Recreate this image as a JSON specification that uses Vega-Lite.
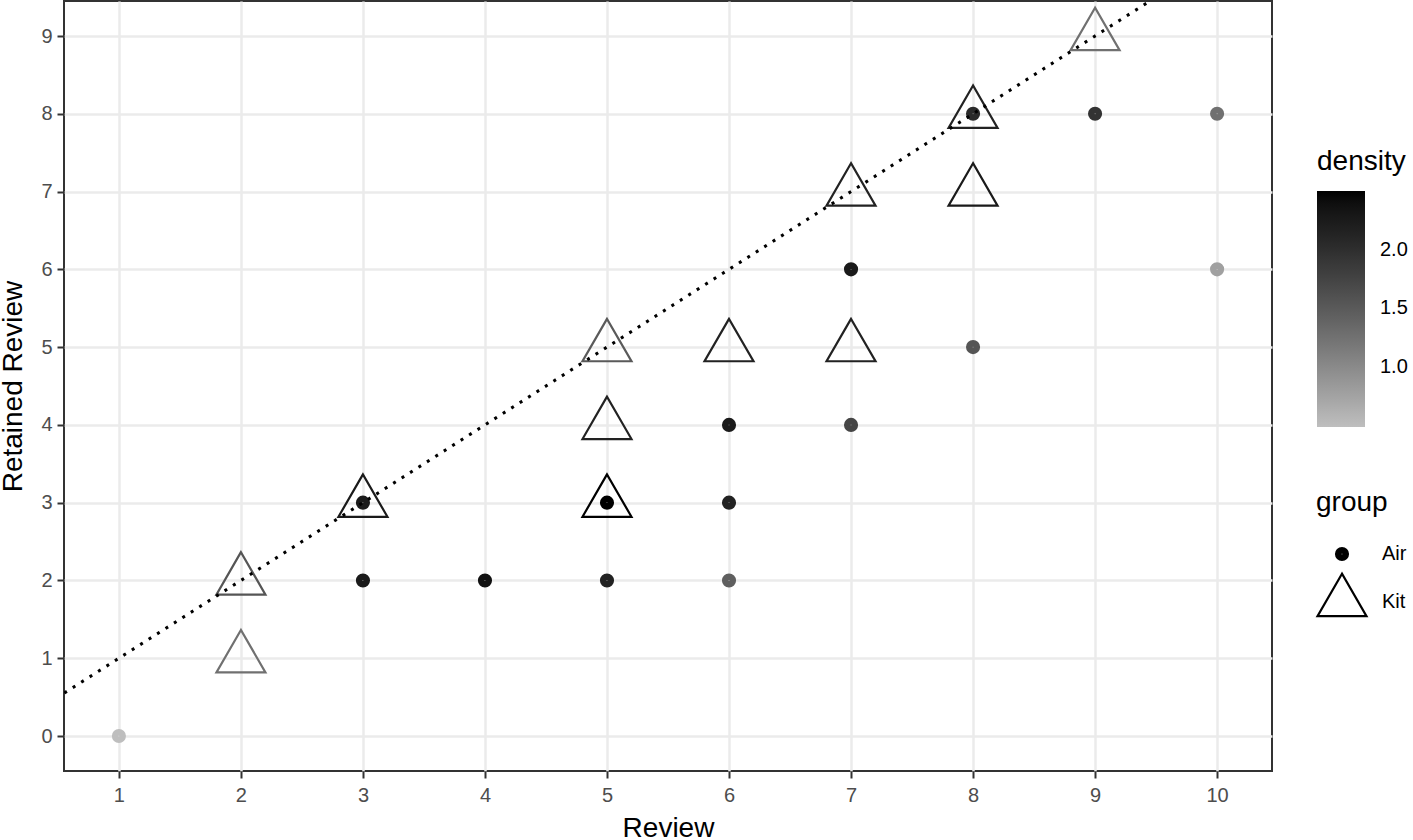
{
  "$schema": "https://vega.github.io/schema/vega-lite/v6.json",
  "width": 1208,
  "height": 770,
  "autosize": "none",
  "padding": {"left": 64, "top": 1, "right": 141, "bottom": 69},
  "background": "white",
  "config": {
    "font": "Liberation Sans",
    "view": {"stroke": "#333333", "strokeWidth": 2},
    "axis": {
      "gridColor": "#EBEBEB", "gridWidth": 2.5, "domain": false,
      "tickColor": "#333333", "tickWidth": 2, "tickSize": 7,
      "labelColor": "#4D4D4D", "labelFontSize": 20, "labelFont": "Liberation Sans",
      "titleFontSize": 28, "titleFontWeight": "normal", "titleColor": "#000000", "titleFont": "Liberation Sans"
    },
    "legend": {
      "titleFontSize": 28, "titleFontWeight": "normal", "titleColor": "#000000",
      "labelFontSize": 20, "labelColor": "#000000", "titleFont": "Liberation Sans", "labelFont": "Liberation Sans",
      "symbolStrokeColor": "#000000"
    }
  },
  "datasets": {
    "pts": [
      {"review": 2, "retained": 1, "group": "Kit", "density": 1.27},
      {"review": 2, "retained": 2, "group": "Kit", "density": 1.56},
      {"review": 3, "retained": 3, "group": "Kit", "density": 2.26},
      {"review": 5, "retained": 3, "group": "Kit", "density": 2.50},
      {"review": 5, "retained": 4, "group": "Kit", "density": 2.16},
      {"review": 5, "retained": 5, "group": "Kit", "density": 1.50},
      {"review": 6, "retained": 5, "group": "Kit", "density": 2.16},
      {"review": 7, "retained": 5, "group": "Kit", "density": 2.16},
      {"review": 7, "retained": 7, "group": "Kit", "density": 2.16},
      {"review": 8, "retained": 7, "group": "Kit", "density": 2.26},
      {"review": 8, "retained": 8, "group": "Kit", "density": 2.16},
      {"review": 9, "retained": 9, "group": "Kit", "density": 1.27},
      {"review": 1, "retained": 0, "group": "Air", "density": 0.49},
      {"review": 3, "retained": 2, "group": "Air", "density": 2.26},
      {"review": 3, "retained": 3, "group": "Air", "density": 2.26},
      {"review": 4, "retained": 2, "group": "Air", "density": 2.37},
      {"review": 5, "retained": 2, "group": "Air", "density": 2.16},
      {"review": 5, "retained": 3, "group": "Air", "density": 2.50},
      {"review": 6, "retained": 2, "group": "Air", "density": 1.45},
      {"review": 6, "retained": 3, "group": "Air", "density": 2.16},
      {"review": 6, "retained": 4, "group": "Air", "density": 2.26},
      {"review": 7, "retained": 4, "group": "Air", "density": 1.74},
      {"review": 7, "retained": 6, "group": "Air", "density": 2.26},
      {"review": 8, "retained": 5, "group": "Air", "density": 1.56},
      {"review": 8, "retained": 8, "group": "Air", "density": 2.05},
      {"review": 9, "retained": 8, "group": "Air", "density": 1.95},
      {"review": 10, "retained": 6, "group": "Air", "density": 0.78},
      {"review": 10, "retained": 8, "group": "Air", "density": 1.27}
    ],
    "ref": [
      {"x": 0, "y": 0},
      {"x": 10, "y": 10}
    ]
  },
  "layer": [
    {
      "data": {"name": "pts"},
      "mark": {"type": "point", "filled": false, "opacity": 1},
      "encoding": {
        "x": {"field": "review", "type": "quantitative", "title": "Review",
              "scale": {"domain": [0.55, 10.45], "nice": false, "zero": false},
              "axis": {"values": [1,2,3,4,5,6,7,8,9,10], "format": "d", "labelPadding": 7, "titlePadding": 9}},
        "y": {"field": "retained", "type": "quantitative", "title": "Retained Review",
              "scale": {"domain": [-0.45, 9.45], "nice": false, "zero": false},
              "axis": {"values": [0,1,2,3,4,5,6,7,8,9], "format": "d", "labelPadding": 5, "titlePadding": 13}},
        "color": {"field": "density", "type": "quantitative",
                  "scale": {"domain": [0.49, 2.5], "range": ["#BEBEBE", "#000000"], "interpolate": "lab", "nice": false, "zero": false},
                  "legend": {"type": "gradient", "title": "density", "orient": "none", "legendX": 1253, "legendY": 147,
                             "direction": "vertical", "gradientLength": 236, "gradientThickness": 48,
                             "values": [1, 1.5, 2], "format": ".1f", "labelOffset": 15, "titlePadding": 15,
                             "gradientStrokeWidth": 0}},
        "shape": {"field": "group", "type": "nominal",
                  "scale": {"domain": ["Air", "Kit"], "range": ["circle", "M0,-1.1547L-1,0.5774L1,0.5774Z"]},
                  "legend": {"title": "group", "orient": "none", "legendX": 1252, "legendY": 488,
                             "labelOffset": 14, "titlePadding": 27, "rowPadding": -4}},
        "size": {"field": "group", "type": "nominal",
                 "scale": {"domain": ["Air", "Kit"], "range": [44, 2400]},
                 "legend": {"title": "group", "orient": "none", "legendX": 1252, "legendY": 488,
                            "labelOffset": 14, "titlePadding": 27, "rowPadding": -4}},
        "strokeWidth": {"field": "group", "type": "nominal",
                        "scale": {"domain": ["Air", "Kit"], "range": [7.5, 2.2]},
                        "legend": {"title": "group", "orient": "none", "legendX": 1252, "legendY": 488,
                                   "labelOffset": 14, "titlePadding": 27, "rowPadding": -4}}
      }
    },
    {
      "data": {"name": "ref"},
      "mark": {"type": "line", "color": "#000000", "strokeWidth": 3, "strokeDash": [3, 7], "clip": true},
      "encoding": {
        "x": {"field": "x", "type": "quantitative", "title": "Review"},
        "y": {"field": "y", "type": "quantitative", "title": "Retained Review"}
      }
    }
  ]
}
